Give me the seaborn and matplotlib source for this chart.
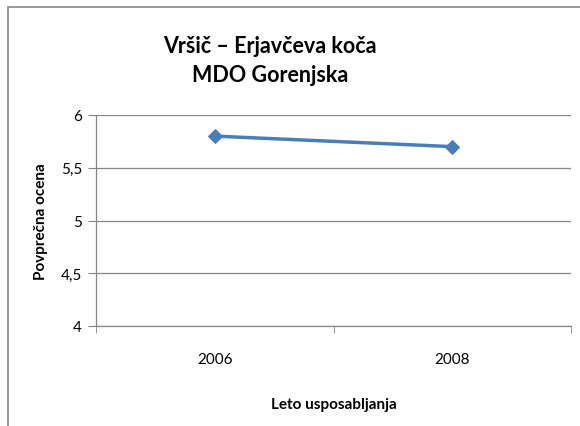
import pandas as pd
import matplotlib
matplotlib.use("Agg")
import matplotlib.pyplot as plt
import seaborn as sns
from matplotlib.patches import Rectangle

# podatki
leta = ["2006", "2008"]
ocene = [5.8, 5.7]
y_ticks = [4, 4.5, 5, 5.5, 6]
y_tick_labels = ["4", "4,5", "5", "5,5", "6"]

df = pd.DataFrame({"leto": leta, "ocena": ocene})

sns.set_style("white")
plt.rcParams["font.family"] = ["Lato", "DejaVu Sans"]
plt.rcParams["text.color"] = "black"

fig = plt.figure(figsize=(5.8, 4.27), dpi=100)
fig.patch.set_facecolor("white")

# okvir grafa
fig.add_artist(Rectangle((8 / 580, -0.1), 1.2, 1 - 8 / 427 + 0.1,
                         transform=fig.transFigure, fill=False,
                         edgecolor="#868686", linewidth=1.2, clip_on=False))

ax = fig.add_axes([96 / 580, 100 / 427, 475 / 580, 211 / 427])

sns.lineplot(x="leto", y="ocena", data=df, ax=ax, color="#4A7EBB",
             linewidth=2.5, marker="D", markersize=7,
             markeredgecolor="#4A7EBB", sort=False)

ax.set_xlim(-0.5, 1.5)
ax.set_ylim(4, 6)
ax.set_yticks(y_ticks)
ax.set_yticklabels(y_tick_labels)
ax.yaxis.grid(True, color="#868686", linewidth=0.9)
ax.set_axisbelow(True)

ax.set_xticks([0, 1])
ax.set_xticklabels(leta)
ax.set_xticks([-0.5, 0.5, 1.5], minor=True)
ax.tick_params(bottom=True, left=True, which="both")
ax.tick_params(axis="x", which="major", length=0, pad=19, labelsize=11, labelcolor="black")
ax.tick_params(axis="x", which="minor", length=5, color="#868686", direction="out")
ax.tick_params(axis="y", length=6, color="#868686", direction="out", labelsize=11,
               pad=4, labelcolor="black")

for s in ["top", "right"]:
    ax.spines[s].set_visible(False)
for s in ["left", "bottom"]:
    ax.spines[s].set_color("#868686")
    ax.spines[s].set_linewidth(0.9)

ax.set_xlabel("Leto usposabljanja", fontsize=11, fontweight="bold", labelpad=22, color="black")
ax.set_ylabel("Povprečna ocena", fontsize=11, fontweight="bold", labelpad=9, color="black")

fig.text(270 / 580, 1 - 61 / 427, "Vršič – Erjavčeva koča\nMDO Gorenjska",
         ha="center", va="center", fontsize=15.5, fontweight="bold",
         linespacing=1.5)

fig.savefig("out.png", dpi=100)
